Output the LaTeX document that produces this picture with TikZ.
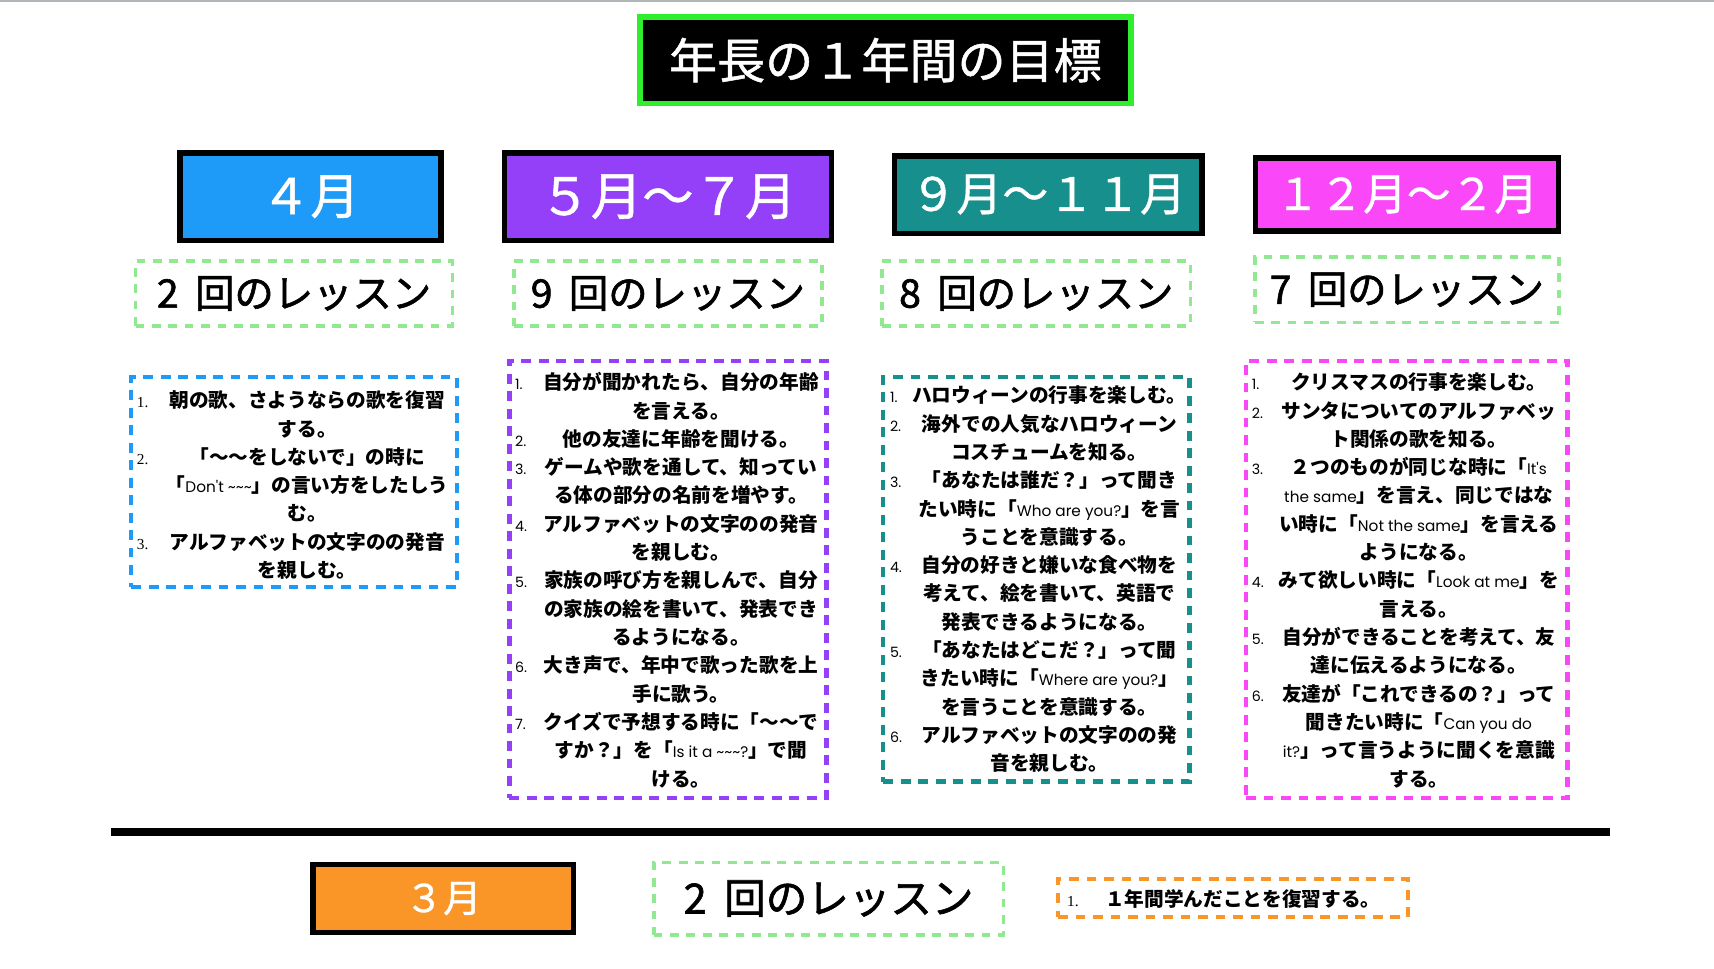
\documentclass[tikz,border=0pt]{standalone}
\usepackage{fontspec}
\setmainfont{Noto Sans CJK JP}
\newfontfamily\jpmed{Noto Sans CJK JP}[FakeBold=1.5]
\newfontfamily\jpsemi{Noto Sans CJK JP}[FakeBold=1]
\newfontfamily\en{Poppins}
\newfontfamily\sernum{Liberation Serif}
\definecolor{tgreen}{HTML}{2EEE2E}
\definecolor{lgreen}{HTML}{90E890}
\definecolor{cblue}{HTML}{1E9AF8}
\definecolor{cpurple}{HTML}{9440F8}
\definecolor{cteal}{HTML}{178F8C}
\definecolor{cmag}{HTML}{FA48F8}
\definecolor{corange}{HTML}{FA9628}
\newcommand\EN[1]{{\en\mdseries\fontsize{14}{14}\selectfont #1}}
\newcommand\tld{\textasciitilde}
\newcommand\putlines[4]{%
  \foreach \t [count=\i] in {#4} {\node[ln] (#1l\i) at (#2,{#3+7+(\i-1)*25.9}) {\t};}}
\newcommand\putnums[4]{%
  \foreach \n/\k in {#4} {\node[num] (#1n\n) at (#2,{#3+7+(\k-1)*25.9}) {\n.};}}
\begin{document}
\begin{tikzpicture}[x=1pt,y=-1pt,
  titlebox/.style={draw=tgreen, line width=5pt, fill=black, text=white, inner sep=0pt,
    minimum width=449pt, minimum height=79pt, font=\jpsemi\fontsize{44}{44}\selectfont},
  month/.style={draw=black, line width=5pt, text=white, inner sep=0pt},
  lesson/.style={draw=lgreen, line width=3.5pt, dash pattern=on 8pt off 7pt, fill=white,
    inner sep=0pt, font=\jpmed\fontsize{36}{36}\selectfont},
  goal/.style={line width=4pt, dash pattern=on 9pt off 7pt, fill=white, inner sep=0pt},
  ln/.style={anchor=base, inner sep=0pt, font=\bfseries\fontsize{18}{18}\selectfont},
  num/.style={anchor=base west, inner sep=0pt, font=\en\fontsize{13}{13}\selectfont},
  snum/.style={num, font=\sernum\fontsize{14}{14}\selectfont}]
\useasboundingbox (0,0) rectangle (1568,885.55);
\fill[white] (0,0) rectangle (1568,885.55);
\draw[line width=1.5pt, draw={rgb,255:red,176;green,181;blue,186}] (0,0.75) -- (1568,0.75);

% title
\node[titlebox] (title) at (810,55) {年長の１年間の目標};

% month boxes
\node[month, fill=cblue, minimum width=239pt, minimum height=80pt,
  font=\jpsemi\fontsize{45}{45}\selectfont] (m1) at (284,180) {４月};
\node[month, fill=cpurple, minimum width=299pt, minimum height=80pt,
  font=\jpsemi\fontsize{47}{47}\selectfont] (m2) at (611,180) {５月～７月};
\node[month, fill=cteal, minimum width=281pt, minimum height=71pt,
  font=\jpsemi\fontsize{42}{42}\selectfont] (m3) at (959,178) {９月～１１月};
\node[month, fill=cmag, minimum width=277pt, minimum height=67pt,
  font=\jpsemi\fontsize{40}{40}\selectfont] (m4) at (1287,178) {１２月～２月};

% lesson boxes
\node[lesson, minimum width=290pt, minimum height=59pt] (l1) at (269,268.5) {2\hspace{15pt}回のレッスン};
\node[lesson, minimum width=282pt, minimum height=59pt] (l2) at (611,268.5) {9\hspace{15pt}回のレッスン};
\node[lesson, minimum width=282pt, minimum height=59pt] (l3) at (948,268.5) {8\hspace{15pt}回のレッスン};
\node[lesson, minimum width=278pt, minimum height=60pt] (l4) at (1287,265) {7\hspace{15pt}回のレッスン};

% goal boxes
\node[goal, draw=cblue, minimum width=298pt, minimum height=192pt] (g1) at (269,441) {};
\node[goal, draw=cpurple, minimum width=290pt, minimum height=400pt] (g2) at (611,530) {};
\node[goal, draw=cteal, minimum width=280pt, minimum height=370pt] (g3) at (948,530) {};
\node[goal, draw=cmag, minimum width=294pt, minimum height=400pt] (g4) at (1287,530) {};

% column 1
\putlines{a}{281}{366}{朝の歌、さようならの歌を復習, する。, 「～～をしないで」の時に,
  「\EN{Don't \tld\tld\tld}」の言い方をしたしう, む。, アルファベットの文字のの発音, を親しむ。}
\foreach \n/\k in {1/1,2/3,3/6} {\node[snum] (an\n) at (125,{366+7+(\k-1)*25.9}) {\n.};}

% column 2
\putlines{b}{623}{349.5}{自分が聞かれたら、自分の年齢, を言える。, 他の友達に年齢を聞ける。,
  ゲームや歌を通して、知ってい, る体の部分の名前を増やす。, アルファベットの文字のの発音,
  を親しむ。, 家族の呼び方を親しんで、自分, の家族の絵を書いて、発表でき, るようになる。,
  大き声で、年中で歌った歌を上, 手に歌う。, クイズで予想する時に「～～で,
  すか？」を「\EN{Is it a \tld\tld\tld?}」で聞, ける。}
\putnums{b}{471}{349.5}{1/1,2/3,3/4,4/6,5/8,6/11,7/13}

% column 3
\putlines{c}{960}{361.5}{ハロウィーンの行事を楽しむ。, 海外での人気なハロウィーン, コスチュームを知る。,
  「あなたは誰だ？」って聞き, たい時に「\EN{Who are you?}」を言, うことを意識する。,
  自分の好きと嫌いな食べ物を, 考えて、絵を書いて、英語で, 発表できるようになる。,
  「あなたはどこだ？」って聞, きたい時に「\EN{Where are you?}」, を言うことを意識する。,
  アルファベットの文字のの発, 音を親しむ。}
\putnums{c}{814}{361.5}{1/1,2/2,3/4,4/7,5/10,6/13}

% column 4
\putlines{d}{1298}{349.5}{クリスマスの行事を楽しむ。, サンタについてのアルファベッ, ト関係の歌を知る。,
  ２つのものが同じな時に「\EN{It's}, \EN{the same}」を言え、同じではな,
  い時に「\EN{Not the same}」を言える, ようになる。, みて欲しい時に「\EN{Look at me}」を,
  言える。, 自分ができることを考えて、友, 達に伝えるようになる。, 友達が「これできるの？」って,
  聞きたい時に「\EN{Can you do}, \EN{it?}」って言うように聞くを意識, する。}
\putnums{d}{1145}{349.5}{1/1,2/2,3/4,4/8,5/10,6/12}

% separator
\coordinate (sepL) at (102,761);
\coordinate (sepR) at (1473,761);
\draw[line width=7pt] (sepL) -- (sepR);

% bottom row
\node[month, fill=corange, minimum width=238pt, minimum height=62pt,
  font=\jpsemi\fontsize{35}{35}\selectfont] (m5) at (405.5,822) {３月};
\node[lesson, minimum width=320pt, minimum height=66pt, font=\jpmed\fontsize{38}{38}\selectfont]
  (l5) at (758,822) {2\hspace{16pt}回のレッスン};
\node[goal, draw=corange, minimum width=320pt, minimum height=35pt] (g5) at (1128,821.5) {};
\node[snum] (en1) at (976,829) {1.};
\node[ln] (el1) at (1137,829) {１年間学んだことを復習する。};
\end{tikzpicture}
\end{document}
